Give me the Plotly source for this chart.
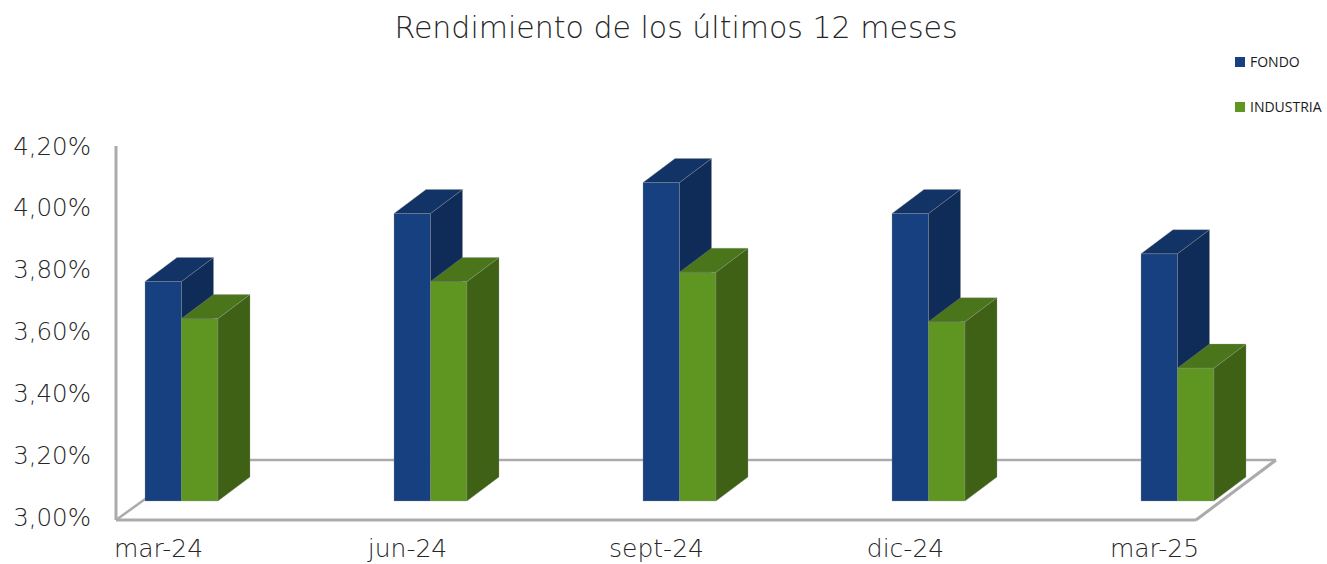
import plotly.graph_objects as go

categories = ["mar-24", "jun-24", "sept-24", "dic-24", "mar-25"]
fondo = [3.71, 3.93, 4.03, 3.93, 3.80]
industria = [3.59, 3.71, 3.74, 3.58, 3.43]
y_ticks = [3.0, 3.2, 3.4, 3.6, 3.8, 4.0, 4.2]
y_labels = ["3,00%", "3,20%", "3,40%", "3,60%", "3,80%", "4,00%", "4,20%"]

W, H = 1327, 564
PLOT_L, PLOT_R, PLOT_T, PLOT_B = 100, 1282, 146, 524   # plot box in pixels
X_STANDOFF = 7
PW, PH = PLOT_R - PLOT_L, PLOT_B - PLOT_T
PX_PER_CAT = 249.0
PX_PER_UNIT = (517.0 - 146.0) / 1.2
X0 = (PLOT_L - 158.5) / PX_PER_CAT
X1 = X0 + PW / PX_PER_CAT
Y1 = 4.2
Y0 = Y1 - PH / PX_PER_UNIT

# 3-D projection expressed in axis units
dx = 32 / PX_PER_CAT
dy = 24 / PX_PER_UNIT
bar_w = 36.5 / PX_PER_CAT
lift = 16 / PX_PER_UNIT          # floor position of the bars' front face
shift = 23 / PX_PER_CAT          # group centre relative to category position

FRONT = {"F": "#164080", "I": "#5F9521"}
TOP = {"F": "#123366", "I": "#4B751A"}
SIDE = {"F": "#0F2B57", "I": "#3E6116"}
EDGE = "rgba(150,150,150,0.4)"
SPINE = "#ABABAB"
FONT = "DejaVu Sans"
TXT = "#262626"


def faces(values, left_of, key, xa, ya):
    out = []
    base = 3.0 + lift
    for i, v in enumerate(values):
        xl = i + shift + left_of
        xr = xl + bar_w
        top = base + v - 3.0
        out.append(go.Scatter(
            x=[xr, xr + dx, xr + dx, xr, xr], y=[base, base + dy, top + dy, top, base],
            mode="lines", fill="toself", fillcolor=SIDE[key], line=dict(color=EDGE, width=0.8),
            xaxis=xa, yaxis=ya, showlegend=False, hoverinfo="skip"))
        out.append(go.Scatter(
            x=[xl, xl + dx, xr + dx, xr, xl], y=[top, top + dy, top + dy, top, top],
            mode="lines", fill="toself", fillcolor=TOP[key], line=dict(color=EDGE, width=0.8),
            xaxis=xa, yaxis=ya, showlegend=False, hoverinfo="skip"))
    return out


xs = list(range(len(categories)))
fig = go.Figure()
fig.add_trace(go.Bar(
    x=[i + shift - bar_w / 2 for i in xs], y=[v - 3.0 for v in fondo], base=3.0 + lift,
    width=bar_w, name="FONDO", marker=dict(color=FRONT["F"], line=dict(color=EDGE, width=0.8)),
    xaxis="x", yaxis="y", showlegend=False))
for t in faces(fondo, -bar_w, "F", "x", "y"):
    fig.add_trace(t)
fig.add_trace(go.Bar(
    x=[i + shift + bar_w / 2 for i in xs], y=[v - 3.0 for v in industria], base=3.0 + lift,
    width=bar_w, name="INDUSTRIA", marker=dict(color=FRONT["I"], line=dict(color=EDGE, width=0.8)),
    xaxis="x2", yaxis="y2", showlegend=False))
for t in faces(industria, 0, "I", "x2", "y2"):
    fig.add_trace(t)


def px_x(p):
    return X0 + (p - PLOT_L) / PX_PER_CAT


def px_y(p):
    return Y1 - (p - PLOT_T) / PX_PER_UNIT


def paper_x(p):
    return (p - PLOT_L) / PW


def paper_y(p):
    return 1 - (p - PLOT_T) / PH


spine = dict(color=SPINE, width=3)
thin = dict(color=SPINE, width=2.5)
segments = [
    (116, 146, 116, 520, spine),
    (116, 520, 1196, 520, spine),
    (1196, 520, 1276, 460, spine),
    (1276, 460, 148, 460, thin),
    (116, 520, 148, 497, thin),
]
shapes = [dict(type="line", xref="x", yref="y", layer="below",
               x0=px_x(a), y0=px_y(b), x1=px_x(c), y1=px_y(d), line=ln)
          for a, b, c, d, ln in segments]

legend_items = [("FONDO", 62, FRONT["F"]), ("INDUSTRIA", 107, FRONT["I"])]
annotations = []
for label, yc, col in legend_items:
    shapes.append(dict(type="rect", xref="paper", yref="paper", layer="above",
                       x0=paper_x(1235), x1=paper_x(1245), y0=paper_y(yc + 5), y1=paper_y(yc - 5),
                       line=dict(width=0), fillcolor=col))
    annotations.append(dict(text=label, xref="paper", yref="paper",
                            x=paper_x(1248), y=paper_y(yc - 1),
                            xanchor="left", yanchor="middle", showarrow=False,
                            font=dict(family="Open Sans", size=14, color="#1a1a1a", weight=500)))

fig.update_layout(
    width=W, height=H, autosize=False,
    margin=dict(l=PLOT_L, r=W - PLOT_R, t=PLOT_T, b=H - PLOT_B, pad=0),
    paper_bgcolor="white", plot_bgcolor="white",
    barmode="overlay", showlegend=False,
    title=dict(text="Rendimiento de los últimos 12 meses", x=676 / W, xanchor="center",
               y=1 - 27 / H, yanchor="middle", yref="container",
               font=dict(family=FONT, size=30, color=TXT, weight=200)),
    xaxis=dict(range=[X0, X1], tickmode="array", tickvals=xs, ticktext=categories, showgrid=False,
               zeroline=False, showline=False, ticks="", ticklabelstandoff=X_STANDOFF, automargin=False,
               tickfont=dict(family=FONT, size=25, color=TXT, weight=200)),
    yaxis=dict(range=[Y0, Y1], tickmode="array", tickvals=y_ticks, ticktext=y_labels, showgrid=False,
               zeroline=False, showline=False, ticks="", ticklabelstandoff=8, automargin=False,
               tickfont=dict(family=FONT, size=24.5, color=TXT, weight=200)),
    xaxis2=dict(overlaying="x", matches="x", visible=False, automargin=False),
    yaxis2=dict(overlaying="y", matches="y", visible=False, automargin=False),
    shapes=shapes, annotations=annotations,
)
fig.write_html("out.html", post_script="document.body.style.margin='0';",
               config={"displayModeBar": False})
